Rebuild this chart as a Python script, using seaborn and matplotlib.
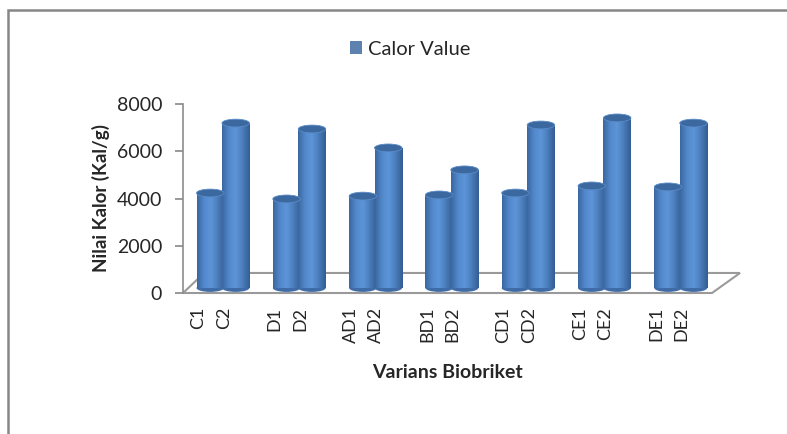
import numpy as np
import seaborn as sns
import matplotlib.pyplot as plt
import matplotlib.transforms as mtransforms
from matplotlib.patches import Ellipse, Polygon, Rectangle
from matplotlib.colors import LinearSegmentedColormap

# Calorific value of each biobriquette variant
variants = ['C1', 'C2', 'D1', 'D2', 'AD1', 'AD2', 'BD1', 'BD2',
            'CD1', 'CD2', 'CE1', 'CE2', 'DE1', 'DE2']
calor_values = [4020, 6980, 3770, 6730, 3890, 5930, 3940, 5000,
                4020, 6900, 4320, 7200, 4280, 6980]
y_ticks = [0, 2000, 4000, 6000, 8000]

# two bars per group, one empty slot between groups
positions = [(i // 2) * 3 + (i % 2) for i in range(len(variants))]

sns.set_theme(style='white')
plt.rcParams['font.family'] = ['Lato', 'DejaVu Sans']

fig = plt.figure(figsize=(7.87, 4.34), dpi=100)
ax = fig.add_axes([183 / 787, 1 - 293 / 434, 529 / 787, 189 / 434])

sns.barplot(x=positions, y=calor_values, native_scale=True, width=1.08,
            color='#4f81bd', errorbar=None, label='Calor Value', ax=ax,
            zorder=3)

# shift bars a little back into the "3D" floor
shift = mtransforms.ScaledTranslation(12 / 100, 5 / 100, fig.dpi_scale_trans)
bar_tr = ax.transData + shift
cyl = LinearSegmentedColormap.from_list(
    'cyl', ['#3b67a0', '#5289cc', '#5d95d8', '#4a7cba', '#335d94'])
grad = np.linspace(0, 1, 64).reshape(1, -1)
cap_h = 330
for bar in ax.patches:
    x0, w, h = bar.get_x(), bar.get_width(), bar.get_height()
    bar.set_transform(bar_tr)
    bar.set_edgecolor('none')
    im = ax.imshow(grad, extent=[x0, x0 + w, 0, h], aspect='auto', cmap=cyl,
                   zorder=3.5, transform=bar_tr)
    im.set_clip_path(bar)
    ax.add_patch(Ellipse((x0 + w / 2, 0), w, cap_h, transform=bar_tr,
                         facecolor='#3f6ca6', edgecolor='none', zorder=2.9))
    ax.add_patch(Ellipse((x0 + w / 2, h), w, cap_h, transform=bar_tr,
                         facecolor='#3c68a0', edgecolor='#5a8bc8', lw=0.6,
                         zorder=4))
ax.set_xlim(-0.6, 20.2)
ax.set_ylim(0, 8000)

# floor of the 3D chart
floor = Polygon([(0, 0), (1, 0), (1.053, 0.106), (0.04, 0.106)],
                closed=True, transform=ax.transAxes, facecolor='white',
                edgecolor='#9a9a9a', lw=1.5, clip_on=False, zorder=1)
ax.add_patch(floor)

for s in ['top', 'right', 'bottom']:
    ax.spines[s].set_visible(False)
ax.spines['left'].set_color('#8c8c8c')
ax.spines['left'].set_linewidth(1.2)

ax.set_yticks(y_ticks)
ax.set_yticklabels([str(v) for v in y_ticks], fontsize=14)
ax.tick_params(axis='y', left=True, length=6, color='#8c8c8c', pad=9)
ax.set_xticks(positions)
ax.set_xticklabels(variants, rotation=90, fontsize=13)
ax.tick_params(axis='x', bottom=False, pad=4)
ax.set_xlabel('Varians Biobriket', fontsize=14, fontweight='bold', labelpad=15)
ax.set_ylabel('Nilai Kalor (Kal/g)', fontsize=13.5, fontweight='bold',
              labelpad=5)
ax.grid(False)

ax.legend(loc='upper center', bbox_to_anchor=(0.43, 1.43), frameon=False,
          fontsize=14.5, handlelength=0.6, handleheight=0.6, handletextpad=0.3)

# chart area border (only top and left edges visible in the crop)
fig.add_artist(Rectangle((8 / 787, -0.1), 1.2, 1.1 - 10 / 434,
                         transform=fig.transFigure, fill=False,
                         edgecolor='#878787', lw=1.8))

fig.savefig('out.png', dpi=100)
